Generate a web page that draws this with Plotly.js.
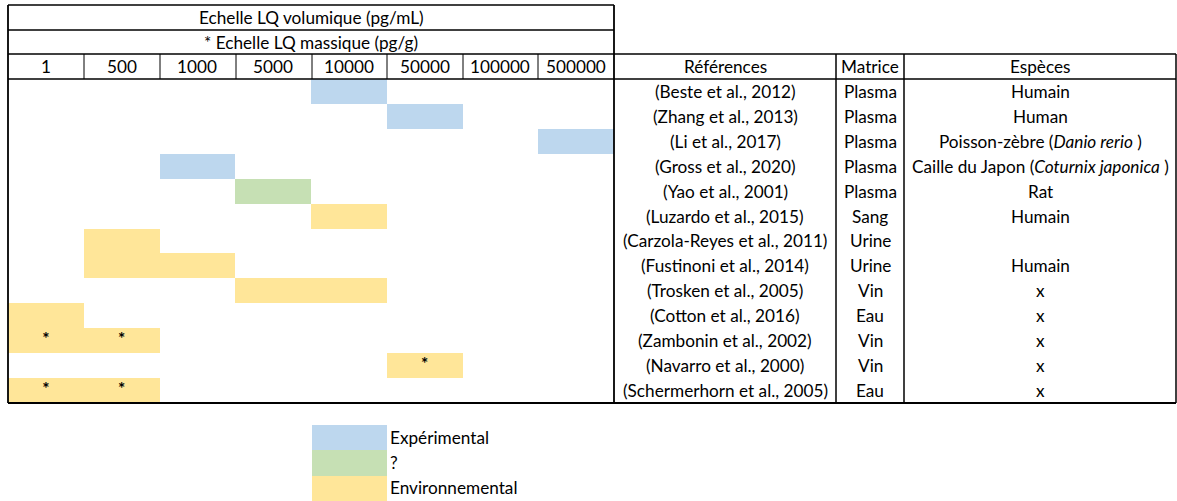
<!DOCTYPE html>
<html>
<head>
<meta charset="utf-8">
<script src="https://cdn.plot.ly/plotly-3.0.1.min.js"></script>
<style>html,body{margin:0;padding:0;background:#fff;}#chart{width:1177px;height:501px;}</style>
</head>
<body>
<div id="chart"></div>
<script>
// ---------------- DATA ----------------
const scaleLabels = ['1', '500', '1000', '5000', '10000', '50000', '100000', '500000'];
const references = [
  '(Beste et al., 2012)', '(Zhang et al., 2013)', '(Li et al., 2017)', '(Gross et al., 2020)',
  '(Yao et al., 2001)', '(Luzardo et al., 2015)', '(Carzola-Reyes et al., 2011)', '(Fustinoni et al., 2014)',
  '(Trosken et al., 2005)', '(Cotton et al., 2016)', '(Zambonin et al., 2002)', '(Navarro et al., 2000)',
  '(Schermerhorn et al., 2005)'
];
const matrices = ['Plasma', 'Plasma', 'Plasma', 'Plasma', 'Plasma', 'Sang', 'Urine', 'Urine', 'Vin', 'Eau', 'Vin', 'Vin', 'Eau'];
const species = [
  'Humain', 'Human', 'Poisson-zèbre (<i>Danio rerio</i> )', 'Caille du Japon (<i>Coturnix japonica</i> )',
  'Rat', 'Humain', '', 'Humain', 'x', 'x', 'x', 'x', 'x'
];
const categoryNames = ['Expérimental', '?', 'Environnemental'];
// cells per category: reference index + scale column
const experimentalRows = [0, 1, 2, 3];
const experimentalCols = ['10000', '50000', '500000', '1000'];
const unknownRows = [4];
const unknownCols = ['5000'];
const environmentalRows = [5, 6, 7, 7, 8, 8, 9, 10, 10, 11, 12, 12];
const environmentalCols = ['10000', '500', '500', '1000', '5000', '10000', '1', '1', '500', '50000', '1', '500'];
// cells given on the mass scale (pg/g), marked with *
const massRows = [10, 10, 11, 12, 12];
const massCols = ['1', '500', '50000', '1', '500'];

const titleLine1 = 'Echelle LQ volumique (pg/mL)';
const titleLine2 = '* Echelle LQ massique (pg/g)';
const columnHeaders = ['Références', 'Matrice', 'Espèces'];

// ---------------- STYLE ----------------
const colors = ['#BDD7EE', '#C6E0B4', '#FFE699'];
const FONT = 'Lato, "Liberation Sans", sans-serif';
const FS = 17.2;
const W = 1177, H = 501;
const px = x => x / W;
const py = y => 1 - y / H;

// build matrix
const z = references.map(() => scaleLabels.map(() => null));
const fill = (rows, cols, code) => rows.forEach((r, i) => { z[r][scaleLabels.indexOf(cols[i])] = code; });
fill(experimentalRows, experimentalCols, 0);
fill(unknownRows, unknownCols, 1);
fill(environmentalRows, environmentalCols, 2);

const colorscale = [[0, colors[0]], [0.3333, colors[0]], [0.3334, colors[1]], [0.6666, colors[1]], [0.6667, colors[2]], [1, colors[2]]];

const traces = [
  {
    type: 'heatmap', x: scaleLabels, y: references, z: z,
    zmin: -0.5, zmax: 2.5, colorscale: colorscale, showscale: false,
    xaxis: 'x', yaxis: 'y', hoverinfo: 'skip'
  },
  {
    type: 'scatter', mode: 'text', x: massCols, y: massRows.map(r => references[r]),
    text: massCols.map(() => '<b>*</b>'), textposition: 'middle center',
    textfont: {family: FONT, size: FS, color: '#000'},
    xaxis: 'x', yaxis: 'y', hoverinfo: 'skip', showlegend: false
  },
  {
    type: 'heatmap', x: ['legend'], y: categoryNames, z: categoryNames.map((c, i) => [i]),
    zmin: -0.5, zmax: 2.5, colorscale: colorscale, showscale: false,
    xaxis: 'x2', yaxis: 'y2', hoverinfo: 'skip'
  }
];

// ---------------- ANNOTATIONS ----------------
const annotations = [];
const ann = (o) => annotations.push(Object.assign({showarrow: false, font: {family: FONT, size: FS, color: '#000'}}, o));
ann({text: titleLine1, xref: 'paper', yref: 'paper', x: px(311), y: py(17), xanchor: 'center', yanchor: 'middle'});
ann({text: titleLine2, xref: 'paper', yref: 'paper', x: px(311), y: py(42), xanchor: 'center', yanchor: 'middle'});
scaleLabels.forEach((l, i) => ann({text: l, xref: 'x', yref: 'paper', x: i, y: py(67), xanchor: 'center', yanchor: 'middle'}));
const colCenters = [725, 870, 1040];
columnHeaders.forEach((h, i) => ann({text: h, xref: 'paper', yref: 'paper', x: px(colCenters[i]), y: py(67), xanchor: 'center', yanchor: 'middle'}));
references.forEach((r, i) => {
  ann({text: r, xref: 'paper', yref: 'y', x: px(colCenters[0]), y: i, xanchor: 'center', yanchor: 'middle'});
  ann({text: matrices[i], xref: 'paper', yref: 'y', x: px(colCenters[1]), y: i, xanchor: 'center', yanchor: 'middle'});
  if (species[i]) ann({text: species[i], xref: 'paper', yref: 'y', x: px(colCenters[2]), y: i, xanchor: 'center', yanchor: 'middle'});
});

// ---------------- TABLE LINES ----------------
const shapes = [];
const line = (x0, y0, x1, y1, w) => shapes.push({type: 'line', xref: 'paper', yref: 'paper',
  x0: px(x0), y0: py(y0), x1: px(x1), y1: py(y1), line: {color: '#000', width: w || 1.3}, layer: 'above'});
line(8, 5, 614, 5);
line(8, 30, 614, 30);
line(8, 54, 1176, 54);
line(8, 79, 1176, 79);
line(8, 403, 1176, 403, 1.8);
line(8, 5, 8, 403, 1.8);
line(614, 5, 614, 403, 1.8);
line(836, 54, 836, 403, 1.5);
line(904, 54, 904, 403, 1.5);
line(1176, 54, 1176, 403, 1.5);
[84, 160, 236, 312, 387, 463, 538].forEach(x => line(x, 54, x, 79, 1));

const layout = {
  width: W, height: H,
  margin: {l: 0, r: 0, t: 0, b: 0},
  paper_bgcolor: '#fff', plot_bgcolor: 'rgba(0,0,0,0)',
  showlegend: false,
  font: {family: FONT, size: FS, color: '#000'},
  xaxis: {type: 'category', domain: [px(8), px(614)], range: [-0.5, 7.5], showticklabels: false,
    showgrid: false, zeroline: false, showline: false, ticks: '', fixedrange: true},
  yaxis: {type: 'category', domain: [py(403), py(79)], range: [12.5, -0.5], showticklabels: false,
    showgrid: false, zeroline: false, showline: false, ticks: '', fixedrange: true},
  xaxis2: {type: 'category', domain: [px(312), px(387)], anchor: 'y2', range: [-0.5, 0.5], showticklabels: false,
    showgrid: false, zeroline: false, showline: false, ticks: ''},
  yaxis2: {type: 'category', domain: [py(501), py(425)], anchor: 'x2', side: 'right', range: [2.5, -0.5],
    showgrid: false, zeroline: false, showline: false, ticks: '', ticklabelstandoff: 2,
    tickfont: {family: FONT, size: FS, color: '#000'}},
  annotations: annotations,
  shapes: shapes
};

Plotly.newPlot('chart', traces, layout, {staticPlot: true, displayModeBar: false});
</script>
</body>
</html>
